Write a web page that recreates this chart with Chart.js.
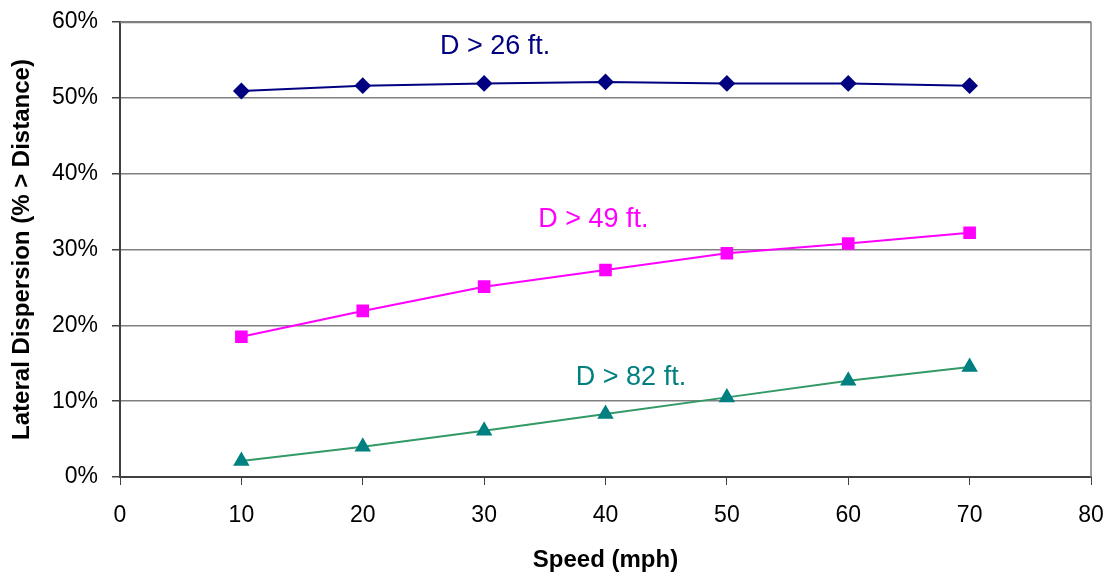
<!DOCTYPE html>
<html>
<head>
<meta charset="utf-8">
<script src="https://cdn.jsdelivr.net/npm/chart.js@4"></script>
<style>
  html, body { margin: 0; padding: 0; background: #fff; }
  #wrap { width: 1110px; height: 576px; }
</style>
</head>
<body>
<div id="wrap"><canvas id="myChart"></canvas></div>
<script>
const speeds = [10, 20, 30, 40, 50, 60, 70];
const over26 = [50.9, 51.6, 51.9, 52.1, 51.9, 51.9, 51.6];
const over49 = [18.5, 21.9, 25.1, 27.3, 29.5, 30.8, 32.2];
const over82 = [2.1, 4.0, 6.1, 8.3, 10.5, 12.7, 14.5];
const seriesNames = ['D > 26 ft.', 'D > 49 ft.', 'D > 82 ft.'];

function pts(vals) {
    return speeds.map((s, i) => ({ x: s, y: vals[i] }));
}

// text labels placed next to each curve
const curveLabels = {
    id: 'curveLabels',
    afterDatasetsDraw(chart) {
        const c = chart.ctx;
        const xs = chart.scales.x, ys = chart.scales.y;
        const spots = [[30.9, 56.8, '#000080'], [39.0, 33.9, '#FF00FF'], [42.1, 13.1, '#008080']];
        c.save();
        c.font = '27px "Liberation Sans", Arial, sans-serif';
        c.textAlign = 'center';
        c.textBaseline = 'middle';
        for (let i = 0; i < spots.length; i++) {
            c.fillStyle = spots[i][2];
            c.fillText(seriesNames[i], xs.getPixelForValue(spots[i][0]), ys.getPixelForValue(spots[i][1]));
        }
        c.restore();
    }
};

const frame = {
    id: 'frame',
    beforeDatasetsDraw(chart) {
        const a = chart.chartArea, c = chart.ctx;
        c.save();
        c.strokeStyle = '#808080';
        c.lineWidth = 1.5;
        c.beginPath();
        c.moveTo(a.left, a.top + 0.5);
        c.lineTo(a.right, a.top + 0.5);
        c.lineTo(a.right, a.bottom);
        c.stroke();
        c.restore();
    }
};

const data = {
    datasets: [{
        label: seriesNames[0],
        data: pts(over26),
        borderColor: '#000080',
        backgroundColor: '#000080',
        pointStyle: 'rectRot',
        pointRadius: 7,
        borderWidth: 2,
    }, {
        label: seriesNames[1],
        data: pts(over49),
        borderColor: '#FF00FF',
        backgroundColor: '#FF00FF',
        pointStyle: 'rect',
        pointRadius: 7.5,
        borderWidth: 2,
    }, {
        label: seriesNames[2],
        data: pts(over82),
        borderColor: '#339966',
        backgroundColor: '#008080',
        pointBorderColor: '#008080',
        pointStyle: 'triangle',
        pointRadius: 7.5,
        borderWidth: 2,
    }]
};

const config = {
    type: 'line',
    data: data,
    options: {
        responsive: true,
        maintainAspectRatio: false,
        animation: false,
        layout: { padding: { top: 22, right: 19, left: 0, bottom: 0 } },
        plugins: { legend: { display: false }, tooltip: { enabled: false } },
        elements: { line: { tension: 0 } },
        scales: {
            x: {
                type: 'linear',
                min: 0,
                max: 80,
                ticks: { stepSize: 10, color: '#000', padding: 17, font: { family: '"Liberation Sans", Arial', size: 23 } },
                grid: { drawOnChartArea: false, drawTicks: true, tickLength: 8, color: '#404040' },
                border: { color: '#404040', width: 2 },
                title: { display: true, text: 'Speed (mph)', color: '#000', padding: { top: 8, bottom: 1 }, font: { family: '"Liberation Sans", Arial', size: 24, weight: 'bold' } },
                afterFit(scale) { scale.height = 99; scale.paddingLeft = 0; scale.paddingRight = 0; }
            },
            y: {
                min: 0,
                max: 60,
                ticks: { stepSize: 10, color: '#000', padding: 14, callback: v => v + '%', font: { family: '"Liberation Sans", Arial', size: 23 } },
                grid: { color: '#808080', lineWidth: 1.5, tickLength: 8, tickColor: '#404040' },
                border: { color: '#404040', width: 2 },
                title: { display: true, text: 'Lateral Dispersion (% > Distance)', color: '#000', padding: { top: 8, bottom: 4 }, font: { family: '"Liberation Sans", Arial', size: 24, weight: 'bold' } },
                afterFit(scale) { scale.width = 120; scale.paddingTop = 0; scale.paddingBottom = 0; }
            }
        }
    },
    plugins: [frame, curveLabels]
};

const myChart = new Chart(document.getElementById('myChart'), config);
</script>
</body>
</html>
